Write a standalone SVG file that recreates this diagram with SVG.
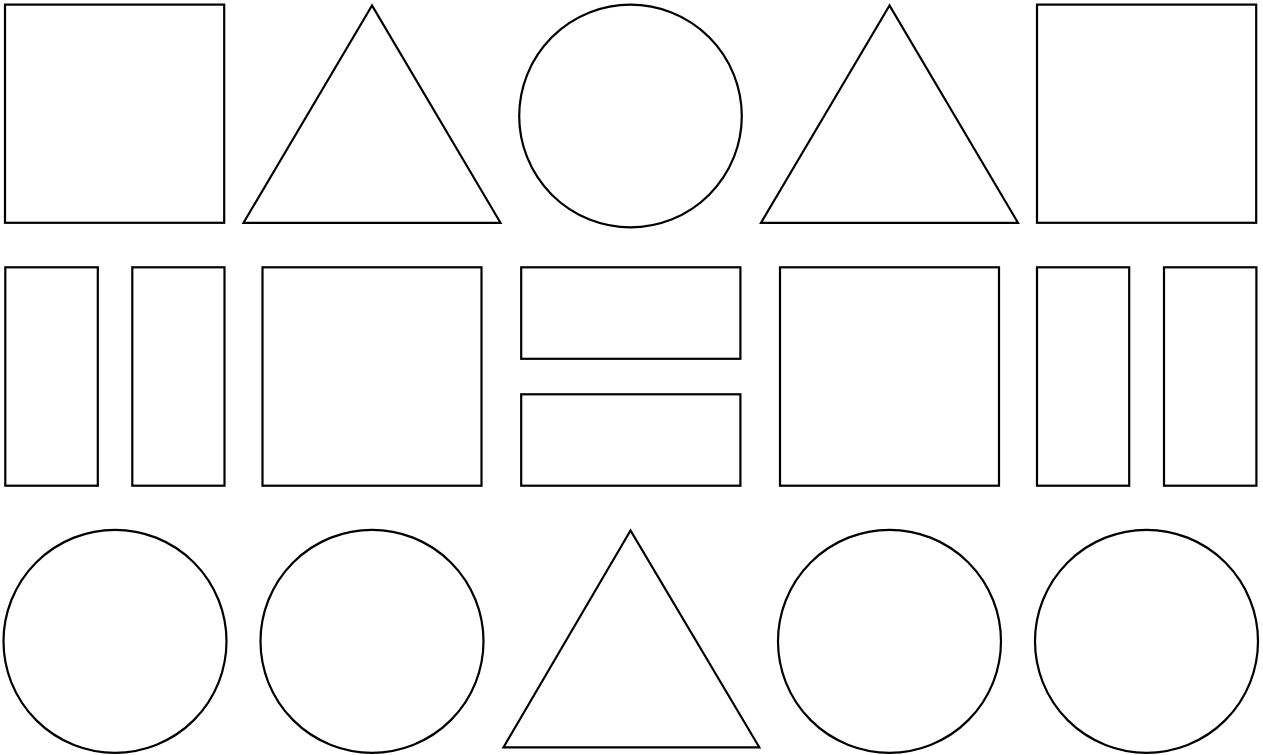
<svg xmlns="http://www.w3.org/2000/svg" width="1263" height="755" viewBox="0 0 1263 755">
<style>
.s{fill:#fff;stroke:#000;stroke-width:2.2}
</style>
<rect width="1263" height="755" fill="#fff"/>
<g id="row1">
<rect id="sq1" class="s" x="5" y="4.6" width="219.2" height="218.2"/>
<polygon id="tri1" class="s" points="372,5.5 243.5,222.8 500.5,222.8"/>
<circle id="c1" class="s" cx="630.5" cy="116" r="111.3"/>
<polygon id="tri2" class="s" points="889.5,5.5 761,222.8 1018,222.8"/>
<rect id="sq2" class="s" x="1037" y="4.6" width="219.2" height="218.2"/>
</g>
<g id="row2">
<rect id="r1" class="s" x="5.3" y="267.3" width="92.5" height="218.4"/>
<rect id="r2" class="s" x="132.3" y="267.3" width="92.2" height="218.4"/>
<rect id="sq3" class="s" x="262.5" y="267.3" width="219" height="218.4"/>
<rect id="r3" class="s" x="521.2" y="267.3" width="219.2" height="91.5"/>
<rect id="r4" class="s" x="521.2" y="394.3" width="219.2" height="91.4"/>
<rect id="sq4" class="s" x="780" y="267.3" width="219" height="218.4"/>
<rect id="r5" class="s" x="1037" y="267.3" width="92.2" height="218.4"/>
<rect id="r6" class="s" x="1164" y="267.3" width="92.4" height="218.4"/>
</g>
<g id="row3">
<circle id="c2" class="s" cx="115" cy="641.3" r="111.5"/>
<circle id="c3" class="s" cx="372" cy="641.3" r="111.5"/>
<polygon id="tri3" class="s" points="630.5,530.5 503.5,747.3 759.3,747.3"/>
<circle id="c4" class="s" cx="889.5" cy="641.3" r="111.5"/>
<circle id="c5" class="s" cx="1146.5" cy="641.3" r="111.5"/>
</g>
</svg>
